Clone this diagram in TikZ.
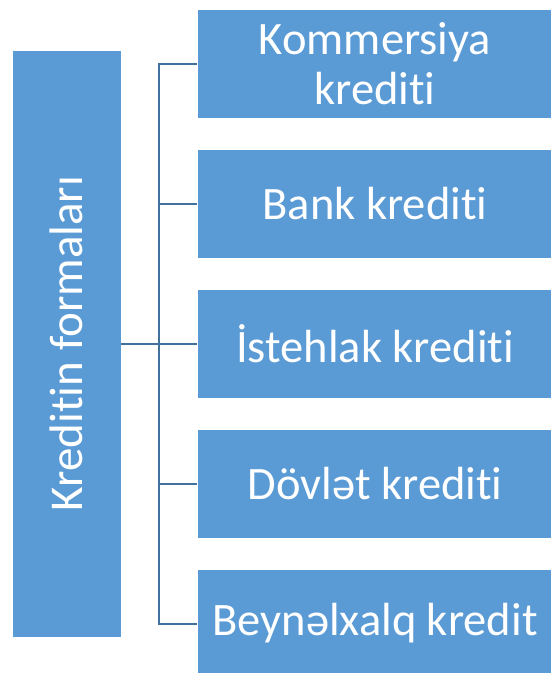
\documentclass[tikz,border=0pt]{standalone}
\usepackage{fontspec}
\setmainfont{Carlito}[Ligatures={NoCommon}]
\definecolor{boxblue}{HTML}{5B9BD5}
\definecolor{lineblue}{HTML}{41719C}
\begin{document}
\begin{tikzpicture}[x=1pt,y=-1pt,
  box/.style={fill=boxblue,draw=white,line width=0.8pt,text=white,font=\fontsize{46.5}{50}\selectfont,align=center,inner sep=0pt},
  conn/.style={draw=lineblue,line width=2pt}]
\useasboundingbox (0,0) rectangle (551,673);
\clip (0,0) rectangle (551,673);
\node[box,minimum width=109pt,minimum height=587pt] (L) at (66.5,343.5) {};
\node[text=white,font=\fontsize{47}{50}\selectfont,rotate=90,inner sep=0pt] (Lt) at (L.center) {Kreditin formaları};
\node[box,minimum width=356pt,minimum height=109pt] (R1) at (375,63.5) {Kommersiya\\krediti};
\node[box,minimum width=356pt,minimum height=109pt] (R2) at (375,203.5) {Bank krediti};
\node[box,minimum width=356pt,minimum height=109pt] (R3) at (375,343.5) {İstehlak krediti};
\node[box,minimum width=356pt,minimum height=109pt] (R4) at (375,483.5) {Dövlət krediti};
\node[box,minimum width=356pt,minimum height=109pt] (R5) at (375,623.5) {Beynəlxalq kredit};
\coordinate (J) at (159,343.5);
\draw[conn] (L.east) -- (J);
\foreach \r in {R1,R2,R3,R4,R5} {\draw[conn] (J) |- (\r.west);}
\end{tikzpicture}
\end{document}
